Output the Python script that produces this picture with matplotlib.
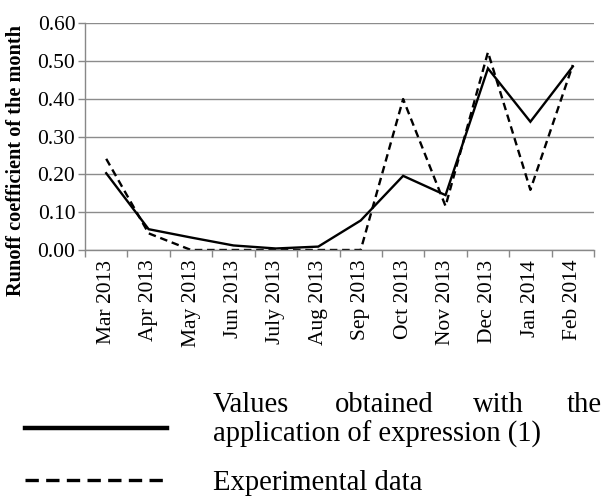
import matplotlib
matplotlib.use("Agg")
import matplotlib.pyplot as plt
from matplotlib.lines import Line2D

plt.rcParams['font.family'] = ['Liberation Serif', 'DejaVu Serif']

months = ["Mar 2013", "Apr 2013", "May 2013", "Jun 2013", "July 2013", "Aug 2013",
          "Sep 2013", "Oct 2013", "Nov 2013", "Dec 2013", "Jan 2014", "Feb 2014"]
model_values = [0.203, 0.055, 0.033, 0.012, 0.004, 0.009, 0.078, 0.196, 0.145, 0.480, 0.339, 0.485]
experimental = [0.241, 0.044, 0.0, 0.0, 0.0, 0.0, 0.0, 0.399, 0.116, 0.523, 0.159, 0.489]
yticks = [0.0, 0.1, 0.2, 0.3, 0.4, 0.5, 0.6]

W, H = 607, 497
fig = plt.figure(figsize=(W / 100, H / 100), dpi=100)
ax = fig.add_axes([85 / W, 1 - 250 / H, (594 - 85) / W, (250 - 23) / H])

x = list(range(len(months)))
ax.plot(x, model_values, color='black', lw=1.7, solid_joinstyle='miter')
ax.plot(x, experimental, color='black', lw=1.7, dashes=(3.2, 2.0))

ax.set_xlim(-0.5, len(months) - 0.5)
ax.set_ylim(0, 0.6)
ax.set_yticks(yticks)
ax.set_yticklabels([f"{v:.2f}" for v in yticks], fontsize=15.5)
ax.set_xticks(x)
ax.set_xticklabels(months, rotation=90, fontsize=15.5)
ax.tick_params(axis='x', which='major', length=0, pad=7)
ax.set_xticks([i - 0.5 for i in range(len(months) + 1)], minor=True)
ax.tick_params(axis='x', which='minor', length=5, color='#888888', width=1)
ax.tick_params(axis='y', length=5, color='#888888', width=1, pad=2)

ax.grid(axis='y', color='#8c8c8c', lw=1)
ax.set_axisbelow(True)
for s in ['top', 'right']:
    ax.spines[s].set_visible(False)
for s in ['left', 'bottom']:
    ax.spines[s].set_color('#888888')
    ax.spines[s].set_linewidth(1)

fig.text(16 / W, 1 - 161 / H, "Runoff coefficient of the month", rotation=90,
         fontsize=14.6, fontweight='bold', ha='center', va='center')

# legend drawn manually
fig.add_artist(Line2D([25 / W, 167 / W], [1 - 428 / H, 1 - 428 / H], color='black', lw=3.2,
                      transform=fig.transFigure))
fig.add_artist(Line2D([25 / W, 167 / W], [1 - 480 / H, 1 - 480 / H], color='black', lw=2.4,
                      dashes=(4.0, 2.2), transform=fig.transFigure))

fs = 20.6
for word, xl, ha in [("Values", 213, 'left'), ("obtained", 335, 'left'),
                     ("with", 473, 'left'), ("the", 602, 'right')]:
    fig.text(xl / W, 1 - 412 / H, word, fontsize=fs, ha=ha, va='baseline')
fig.text(213 / W, 1 - 442 / H, "application of expression (1)", fontsize=fs, ha='left', va='baseline')
fig.text(213 / W, 1 - 490 / H, "Experimental data", fontsize=fs, ha='left', va='baseline')

fig.savefig("out.png", dpi=100)
